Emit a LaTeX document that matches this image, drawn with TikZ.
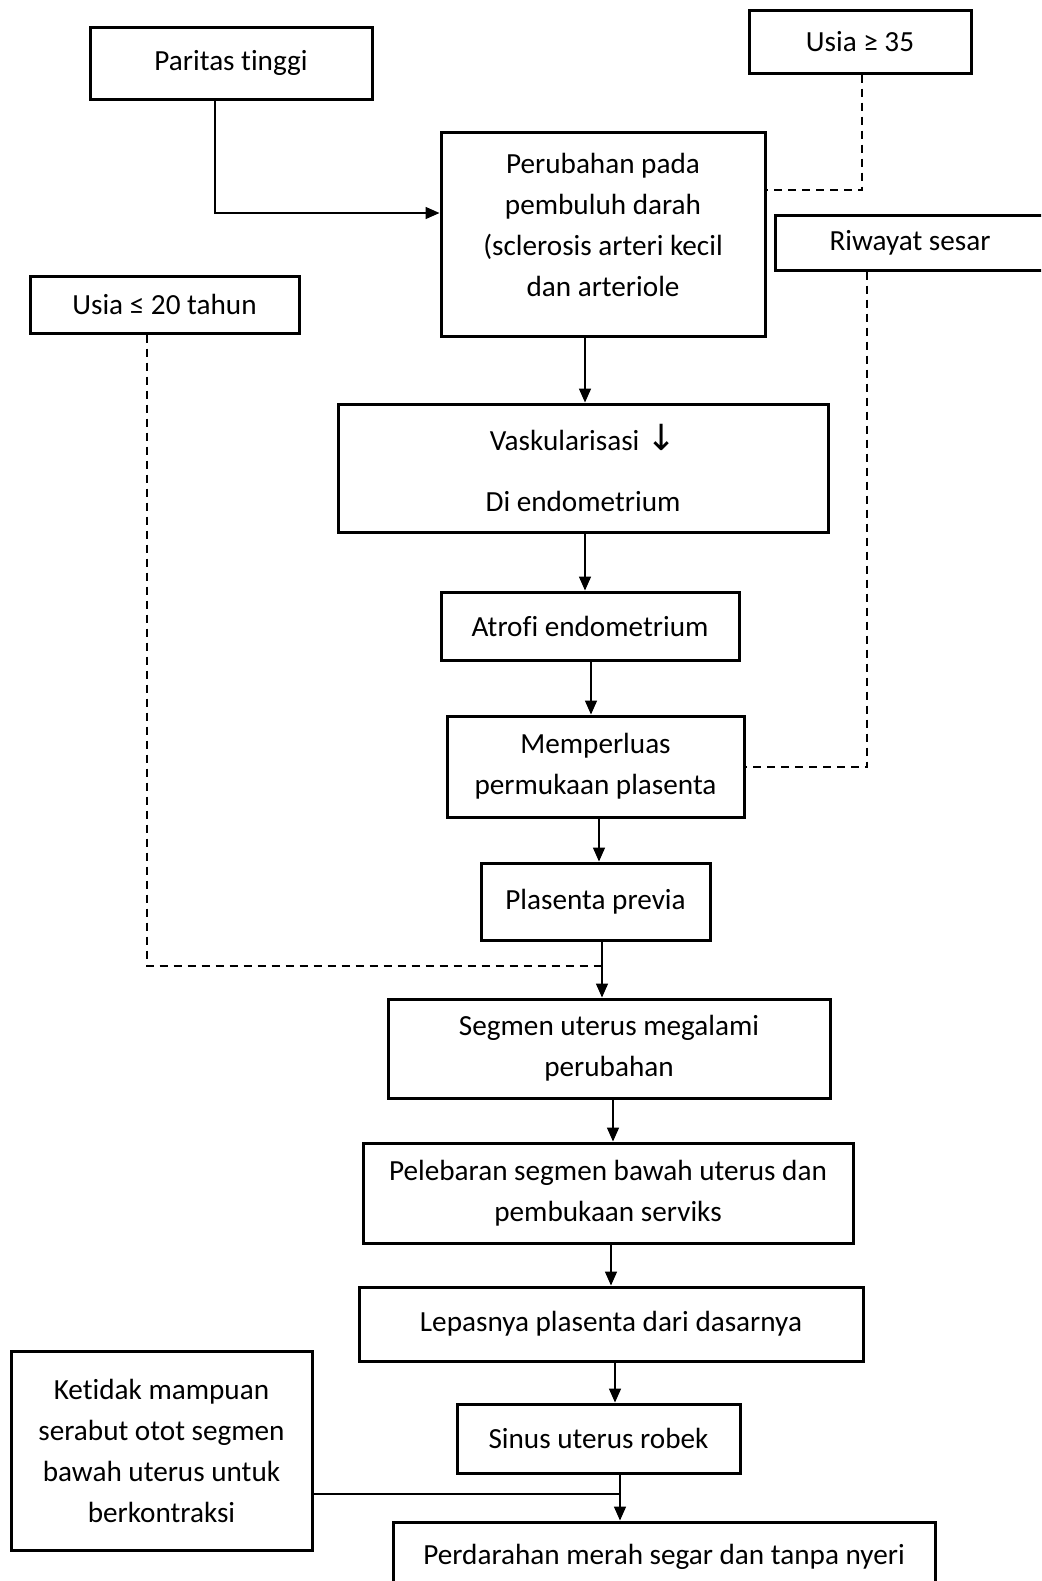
\documentclass[tikz,border=0pt]{standalone}
\usepackage{fontspec}
\setmainfont{Carlito}[Ligatures=NoCommon]
\newfontfamily\symfont{DejaVu Sans}
\usetikzlibrary{arrows.meta}

\tikzset{
  kotak/.style={draw, line width=1.5pt, inner sep=0pt, align=center,
    font=\fontsize{14.6}{20.5}\selectfont},
  panah/.style={line width=0.8pt, -{Triangle[length=7pt,width=6pt]}},
  garis/.style={line width=0.8pt},
  putus/.style={line width=0.8pt, dash pattern=on 4pt off 3pt},
}

\begin{document}
\begin{tikzpicture}[x=0.5pt, y=-0.5pt]
\useasboundingbox (0,0) rectangle (1041,1581);
\clip (0,0) rectangle (1041,1581);

% faktor risiko
\node[kotak, minimum width=141pt, minimum height=36pt] (paritas) at (231,63) {Paritas tinggi};
\node[kotak, minimum width=111pt, minimum height=31.5pt] (usia35) at (860,41.5) {Usia ≥ 35};
\node[kotak, minimum width=135pt, minimum height=27.5pt] (riwayat) at (910,242.5) {Riwayat sesar};
\node[kotak, minimum width=134.5pt, minimum height=28.5pt] (usia20) at (164.5,304.5) {Usia ≤ 20 tahun};
\node[kotak, minimum width=150.5pt, minimum height=99.5pt] (ketidak) at (161.5,1450.5)
  {Ketidak mampuan\\serabut otot segmen\\bawah uterus untuk\\berkontraksi};

% alur utama
\node[kotak, minimum width=162pt, minimum height=102pt] (perubahan) at (603,234)
  {Perubahan pada\\pembuluh darah\\(sclerosis arteri kecil\\dan arteriole\\[-11.5pt]\mbox{}};
\node[kotak, minimum width=245pt, minimum height=64pt] (vask) at (583,468)
  {Vaskularisasi {\symfont\fontsize{18}{20}\selectfont ↓}\\[10pt]Di endometrium};
\node[kotak, minimum width=149pt, minimum height=34pt] (atrofi) at (590,626) {Atrofi endometrium};
\node[kotak, minimum width=148.5pt, minimum height=50.5pt] (memperluas) at (595.5,766.5)
  {Memperluas\\permukaan plasenta};
\node[kotak, minimum width=114.5pt, minimum height=38.5pt] (previa) at (595.5,901.5) {Plasenta previa};
\node[kotak, minimum width=221pt, minimum height=49.5pt] (segmen) at (609,1048.5)
  {Segmen uterus megalami\\perubahan};
\node[kotak, minimum width=245pt, minimum height=50pt] (pelebaran) at (608,1193)
  {Pelebaran segmen bawah uterus dan\\pembukaan serviks};
\node[kotak, minimum width=252pt, minimum height=37pt] (lepasnya) at (611,1324)
  {Lepasnya plasenta dari dasarnya};
\node[kotak, minimum width=141.5pt, minimum height=34.5pt] (sinus) at (598.5,1438.5) {Sinus uterus robek};
\node[kotak, minimum width=271pt, minimum height=35pt] (perdarahan) at (664,1557)
  {Perdarahan merah segar dan tanpa nyeri};

% titik bantu
\coordinate (ka) at (585,0);
\coordinate (kb) at (591,0);
\coordinate (kc) at (599,0);
\coordinate (kd) at (602,0);
\coordinate (ke) at (613,0);
\coordinate (kf) at (611,0);
\coordinate (kg) at (615,0);
\coordinate (kh) at (620,0);
\coordinate (tp) at (215,213);
\coordinate (t35) at (862,190);
\coordinate (tr) at (867,767);
\coordinate (t20) at (147,966);
\coordinate (tk) at (0,1494);

% panah
\draw[panah] (paritas.south -| tp) |- (perubahan.west |- tp);
\draw[panah] (perubahan.south -| ka) -- (vask.north -| ka);
\draw[panah] (vask.south -| ka) -- (atrofi.north -| ka);
\draw[panah] (atrofi.south -| kb) -- (memperluas.north -| kb);
\draw[panah] (memperluas.south -| kc) -- (previa.north -| kc);
\draw[panah] (previa.south -| kd) -- (segmen.north -| kd);
\draw[panah] (segmen.south -| ke) -- (pelebaran.north -| ke);
\draw[panah] (pelebaran.south -| kf) -- (lepasnya.north -| kf);
\draw[panah] (lepasnya.south -| kg) -- (sinus.north -| kg);
\draw[panah] (sinus.south -| kh) -- (perdarahan.north -| kh);

% garis putus-putus
\draw[putus] (usia35.south -| t35) |- (perubahan.east |- t35);
\draw[putus] (riwayat.south -| tr) |- (memperluas.east |- tr);
\draw[putus] (usia20.south -| t20) |- (t20 -| kd);
\draw[garis] (ketidak.east |- tk) -- (tk -| kh);
\end{tikzpicture}
\end{document}
